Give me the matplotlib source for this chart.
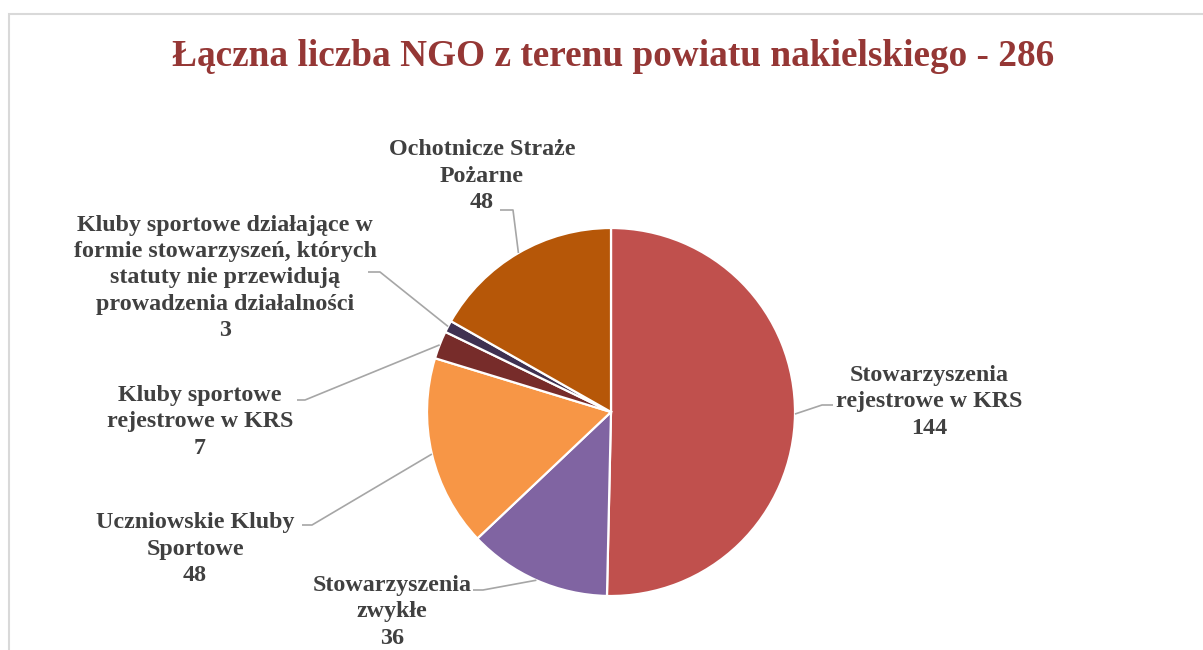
import numpy as np
import matplotlib
matplotlib.use("Agg")
import matplotlib.pyplot as plt
from matplotlib.patches import Rectangle

title = "Łączna liczba NGO z terenu powiatu nakielskiego - 286"
categories = [
    "Stowarzyszenia\nrejestrowe w KRS",
    "Stowarzyszenia\nzwykłe",
    "Uczniowskie Kluby\nSportowe",
    "Kluby sportowe\nrejestrowe w KRS",
    "Kluby sportowe działające w\nformie stowarzyszeń, których\nstatuty nie przewidują\nprowadzenia działalności",
    "Ochotnicze Straże\nPożarne",
]
values = [144, 36, 48, 7, 3, 48]
colors = ["#C0504D", "#8064A2", "#F79646", "#772C2A", "#3F3151", "#B65708"]

# layout (pixel coordinates, y from top)
W, H = 1203, 650
cx, cy, R = 611, 412, 184
text_pos = [(929, 402), (392, 612), (195, 549), (200, 422), (225, 278), (482, 176)]
# horizontal leader segment: (x_text_side, x_elbow, y)
leader_h = [(833, 822, 405), (473, 483, 590), (302, 312, 525),
            (297, 305, 400), (368, 380, 272), (500, 513, 210)]

fig = plt.figure(figsize=(W / 100, H / 100), dpi=100)
ax = fig.add_axes([0, 0, 1, 1])

wedges, _ = ax.pie(values, colors=colors, startangle=90, counterclock=False,
                   center=(cx, H - cy), radius=R, frame=True,
                   wedgeprops=dict(edgecolor="white", linewidth=1.6))
ax.set_xlim(0, W)
ax.set_ylim(0, H)
ax.set_aspect("equal")
ax.axis("off")

# outer frame (partially visible)
fig.patches.append(Rectangle((8.5 / W, -0.1), 1.2, (H - 13.5) / H + 0.1,
                             transform=fig.transFigure, fill=False,
                             edgecolor="#D9D9D9", linewidth=1.5))

txt_color = "#404040"
font = dict(family="Liberation Serif", weight="bold")
for w, cat, v, (tx, ty), (x0, x1, ly) in zip(wedges, categories, values, text_pos, leader_h):
    ang = np.deg2rad((w.theta1 + w.theta2) / 2)
    ex, ey = cx + R * np.cos(ang), (H - cy) + R * np.sin(ang)
    ax.plot([x0, x1, ex], [H - ly, H - ly, ey], color="#A6A6A6", lw=1.2,
            solid_capstyle="butt")
    ax.text(tx, H - ty, f"{cat}\n{v}", ha="center", va="center",
            fontsize=17.3, color=txt_color, linespacing=1.33, **font)

ax.text(613, H - 57, title, ha="center", va="center", fontsize=26.8,
        color="#953735", **font)

fig.savefig("out.png", dpi=100)
